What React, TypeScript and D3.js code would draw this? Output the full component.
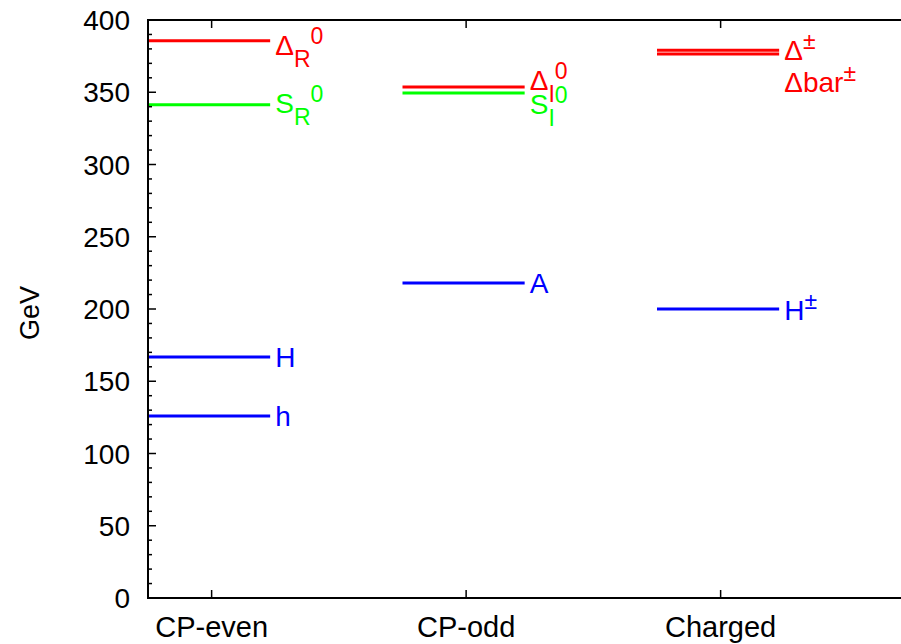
import React from 'react';
import * as d3 from 'd3';

// ---- data ----
const categories = ['CP-even', 'CP-odd', 'Charged'];
const yTicks = [0, 50, 100, 150, 200, 250, 300, 350, 400];

// label parts: base text, subscript, superscript
const levelBase = ['Δ', 'S', 'H', 'h', 'Δ', 'S', 'A', 'Δ', 'Δbar', 'H'];
const levelSub = ['R', 'R', '', '', 'I', 'I', '', '', '', ''];
const levelSup = ['0', '0', '', '', '0', '0', '', '±', '±', '±'];
const levelKind = ['delta', 'singlet', 'higgs', 'higgs', 'delta', 'singlet', 'higgs', 'delta', 'delta', 'higgs'];
const levelCategory = [0, 0, 0, 0, 1, 1, 1, 2, 2, 2];
const levelMass = [385.6, 341.3, 166.8, 126.0, 353.6, 349.4, 218.0, 379.0, 376.4, 200.0];
const labelMass = [375.8, 335.6, 159.9, 119.0, 351.6, 335.0, 211.1, 372.3, 350.2, 192.4];

// ---- style ----
const W = 901;
const H = 644;
const kindColor: Record<string, string> = { delta: '#ff0000', singlet: '#00ff00', higgs: '#0000ff' };
const FONT = '"Liberation Sans", Arial, Helvetica, sans-serif';

export default function App() {
  const y = d3.scaleLinear().domain([0, 400]).range([598, 20]);
  const x = d3.scaleLinear().domain([-0.25, 2.75]).range([148, 911.5]);
  const minor = d3.range(0, 401, 10).filter((v) => v % 50 !== 0);
  const left = x(-0.25);
  const bottom = y(0);
  const top = y(400);

  return (
    <svg
      width={W}
      height={H}
      style={{ position: 'absolute', left: 0, top: 0, background: '#fff' }}
      fontFamily={FONT}
    >
      <rect x={0} y={0} width={W} height={H} fill="#fff" />
      {/* levels */}
      {levelMass.map((m, i) => {
        const c = levelCategory[i];
        const col = kindColor[levelKind[i]];
        const ly = y(m);
        const bl = y(labelMass[i]);
        return (
          <g key={i}>
            <line x1={x(c - 0.25)} x2={x(c + 0.23)} y1={ly} y2={ly} stroke={col} strokeWidth={3} />
            <text x={x(c + 0.25)} y={bl} fill={col} fontSize={28}>
              <tspan y={bl}>{levelBase[i]}</tspan>
              {levelSub[i] && (
                <tspan y={bl + 12} fontSize={23}>
                  {levelSub[i]}
                </tspan>
              )}
              {levelSup[i] && (
                <tspan y={bl - 11} fontSize={23}>
                  {levelSup[i]}
                </tspan>
              )}
            </text>
          </g>
        );
      })}

      {/* axes frame */}
      <line x1={left} x2={W} y1={bottom} y2={bottom} stroke="#000" strokeWidth={2} />
      <line x1={left} x2={W} y1={top} y2={top} stroke="#000" strokeWidth={2} />
      <line x1={left} x2={left} y1={top - 1} y2={bottom + 1} stroke="#000" strokeWidth={2} />

      {/* y ticks */}
      {yTicks.map((t) => (
        <g key={'yt' + t}>
          <line x1={left} x2={left + 8} y1={y(t)} y2={y(t)} stroke="#000" strokeWidth={1.5} />
          <text x={left - 18} y={y(t) + 10} textAnchor="end" fontSize={28} fill="#000">
            {t}
          </text>
        </g>
      ))}
      {minor.map((t) => (
        <line key={'ym' + t} x1={left} x2={left + 4} y1={y(t)} y2={y(t)} stroke="#000" strokeWidth={1.5} />
      ))}

      {/* x ticks */}
      {categories.map((c, i) => (
        <g key={c}>
          <line x1={x(i)} x2={x(i)} y1={bottom} y2={bottom - 8} stroke="#000" strokeWidth={1.5} />
          <line x1={x(i)} x2={x(i)} y1={top} y2={top + 8} stroke="#000" strokeWidth={1.5} />
          <text x={x(i)} y={637} textAnchor="middle" fontSize={29} fill="#000">
            {c}
          </text>
        </g>
      ))}

      {/* y label */}
      <text
        transform={`translate(39, 313) rotate(-90)`}
        textAnchor="middle"
        fontSize={27}
        fill="#000"
      >
        GeV
      </text>
    </svg>
  );
}
